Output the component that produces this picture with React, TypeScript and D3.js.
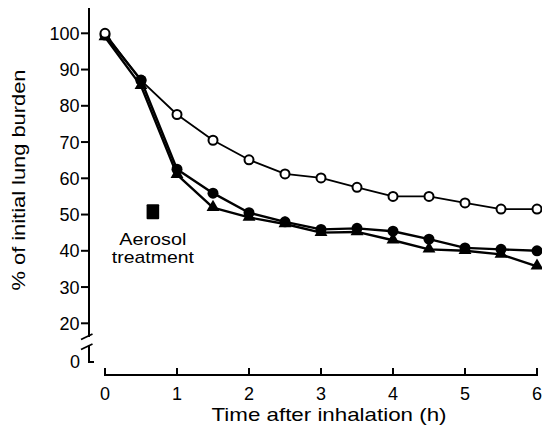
import React from "react";
import * as d3 from "d3";

const times = [0, 0.5, 1, 1.5, 2, 2.5, 3, 3.5, 4, 4.5, 5, 5.5, 6];
const controlOpen = [100, 87, 77.6, 70.5, 65.1, 61.2, 60.1, 57.5, 55.0, 55.0, 53.2, 51.5, 51.5];
const treatedCircle = [99.5, 87.1, 62.5, 55.9, 50.5, 48.0, 45.9, 46.2, 45.4, 43.2, 40.8, 40.4, 40.0];
const treatedTriangle = [99, 85.5, 61, 51.9, 49.2, 47.4, 45.0, 45.2, 42.9, 40.4, 40.0, 39.0, 35.7];
const yTicks = [20, 30, 40, 50, 60, 70, 80, 90, 100];
const xTicks = [0, 1, 2, 3, 4, 5, 6];
const aerosolTime = 0.665;
const aerosolValue = 50.8;
const aerosolLabel = ["Aerosol", "treatment"];
const xTitle = "Time after inhalation (h)";
const yTitle = "% of initial lung burden";

const W = 542;
const H = 439;
const FONT = "'Liberation Sans', Arial, Helvetica, sans-serif";

export default function App() {
  const x = d3.scaleLinear().domain([0, 6]).range([105, 537]);
  const y = d3.scaleLinear().domain([20, 100]).range([323.3, 33.3]);
  const axisX = 89;
  const axisY = 375;
  const zeroY = 362;

  const line = d3
    .line<[number, number]>()
    .x((d) => x(d[0]))
    .y((d) => y(d[1]));

  const series = [
    { key: "open", values: controlOpen, width: 1.8 },
    { key: "circle", values: treatedCircle, width: 2.4 },
    { key: "triangle", values: treatedTriangle, width: 2.4 },
  ];

  type M = { key: string; t: number; v: number; i: number };
  const markers: M[] = [];
  series.forEach((s) => s.values.forEach((v, i) => markers.push({ key: s.key, t: times[i], v, i })));
  const order: Record<string, number> = { open: 0, circle: 1, triangle: 2 };
  markers.sort((a, b) => {
    const ra = a.i === 0 ? (a.key === "open" ? 10 : order[a.key]) : order[a.key] + 3;
    const rb = b.i === 0 ? (b.key === "open" ? 10 : order[b.key]) : order[b.key] + 3;
    return ra - rb;
  });

  const tri = d3.symbol(d3.symbolTriangle, 72)();

  return (
    <svg
      width={W}
      height={H}
      style={{ position: "absolute", left: 0, top: 0, background: "#fff" }}
      fontFamily={FONT}
    >
      <rect x={0} y={0} width={W} height={H} fill="#fff" />
      {/* Y axis upper segment */}
      <line x1={axisX} x2={axisX} y1={y(107)} y2={337} stroke="#000" strokeWidth={2} />
      {/* break marks */}
      <line x1={81} y1={339.5} x2={92.5} y2={334} stroke="#000" strokeWidth={1.8} />
      <line x1={81} y1={349.5} x2={92.5} y2={344} stroke="#000" strokeWidth={1.8} />
      {/* lower segment */}
      <path d={`M${axisX},345.5 L${axisX},${zeroY} L${axisX + 5},${zeroY}`} fill="none" stroke="#000" strokeWidth={2} />
      <text x={80} y={zeroY} dy="0.36em" textAnchor="end" fontSize={18}>0</text>
      {yTicks.map((t) => (
        <g key={t}>
          <line x1={81} x2={axisX} y1={y(t)} y2={y(t)} stroke="#000" strokeWidth={2} />
          <text x={79.5} y={y(t)} dy="0.36em" textAnchor="end" fontSize={18}>
            {t}
          </text>
        </g>
      ))}
      {/* X axis */}
      <line x1={x(0) - 1} x2={x(6) + 1} y1={axisY} y2={axisY} stroke="#000" strokeWidth={2} />
      {xTicks.map((t) => (
        <g key={t}>
          <line x1={x(t)} x2={x(t)} y1={axisY} y2={axisY - 7} stroke="#000" strokeWidth={2} />
          <text x={x(t)} y={400} textAnchor="middle" fontSize={18}>
            {t}
          </text>
        </g>
      ))}
      <text x={329} y={421} textAnchor="middle" fontSize={19} textLength={235} lengthAdjust="spacingAndGlyphs">
        {xTitle}
      </text>
      <text
        transform={`translate(25,180) rotate(-90)`}
        textAnchor="middle"
        fontSize={19}
        textLength={221}
        lengthAdjust="spacingAndGlyphs"
      >
        {yTitle}
      </text>
      {/* lines */}
      {series.map((s) => (
        <path
          key={s.key}
          d={line(times.map((t, i) => [t, s.values[i]] as [number, number])) || ""}
          fill="none"
          stroke="#000"
          strokeWidth={s.width}
          strokeLinejoin="round"
        />
      ))}
      {/* markers */}
      {markers.map((m, idx) => {
        const cx = x(m.t);
        const cy = y(m.v);
        if (m.key === "open")
          return <circle key={idx} cx={cx} cy={cy} r={4.5} fill="#fff" stroke="#000" strokeWidth={2} />;
        if (m.key === "circle") return <circle key={idx} cx={cx} cy={cy} r={5.5} fill="#000" />;
        return <path key={idx} d={tri || ""} transform={`translate(${cx},${cy - 0.5})`} fill="#000" />;
      })}
      {/* aerosol treatment marker */}
      <rect
        x={x(aerosolTime) - 6.3}
        y={y(aerosolValue) - 7.5}
        width={12.6}
        height={15}
        rx={1}
        fill="#000"
      />
      <text x={x(aerosolTime)} y={245} textAnchor="middle" fontSize={17} textLength={67} lengthAdjust="spacingAndGlyphs">
        {aerosolLabel[0]}
      </text>
      <text x={x(aerosolTime)} y={263} textAnchor="middle" fontSize={17} textLength={82} lengthAdjust="spacingAndGlyphs">
        {aerosolLabel[1]}
      </text>
    </svg>
  );
}
